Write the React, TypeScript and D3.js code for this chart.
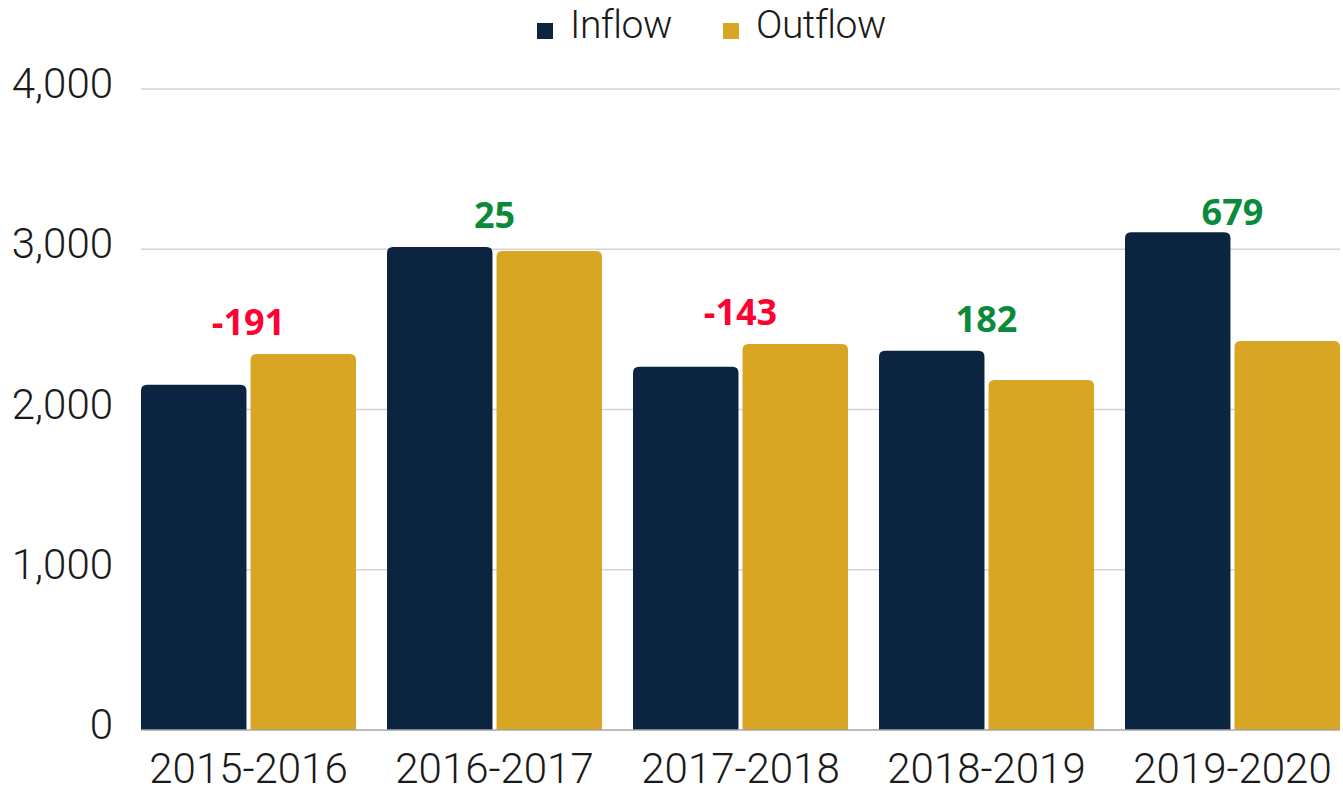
import React, { useEffect, useRef } from 'react';
import * as d3 from 'd3';

const periods = ['2015-2016', '2016-2017', '2017-2018', '2018-2019', '2019-2020'];
const inflow = [2155, 3014, 2266, 2366, 3106];
const outflow = [2346, 2989, 2409, 2184, 2427];
const netLabels = [-191, 25, -143, 182, 679];
const seriesNames = ['Inflow', 'Outflow'];
const yTicks = [0, 1000, 2000, 3000, 4000];

const COLORS = ['#0b2541', '#d9a624'];

const App = () => {
  const ref = useRef<SVGSVGElement>(null);

  useEffect(() => {
    const width = 1343;
    const height = 793;
    const margin = { top: 89, right: 3, bottom: 63, left: 141 };

    const svg = d3.select(ref.current);
    svg.selectAll('*').remove();

    const x0 = d3
      .scaleBand()
      .domain(periods)
      .range([margin.left, width - margin.right])
      .paddingInner(0.126)
      .paddingOuter(0);

    const x1 = d3.scaleBand().domain(seriesNames).range([0, x0.bandwidth()]).paddingInner(0.037);

    const y = d3
      .scaleLinear()
      .domain([0, 4000])
      .range([height - margin.bottom, margin.top]);

    // gridlines
    svg
      .append('g')
      .selectAll('line')
      .data(yTicks.filter((t) => t > 0))
      .enter()
      .append('line')
      .attr('x1', margin.left)
      .attr('x2', width - margin.right)
      .attr('y1', (d) => y(d))
      .attr('y2', (d) => y(d))
      .attr('stroke', '#d4d4d4')
      .attr('stroke-width', 1.5);

    // y tick labels
    svg
      .append('g')
      .selectAll('text')
      .data(yTicks)
      .enter()
      .append('text')
      .attr('x', 113)
      .attr('y', (d) => y(d) + 9)
      .attr('text-anchor', 'end')
      .style('font-family', 'Roboto, sans-serif')
      .style('font-weight', 300)
      .style('font-size', '42px')
      .attr('fill', '#1a1a1a')
      .text((d) => d3.format(',')(d));

    // rounded-top bar path
    const barPath = (bx: number, by: number, bw: number, bh: number) => {
      const r = Math.min(6, bh);
      return `M${bx},${by + bh}V${by + r}Q${bx},${by} ${bx + r},${by}H${bx + bw - r}Q${bx + bw},${by} ${bx + bw},${by + r}V${by + bh}Z`;
    };

    const groups = svg
      .append('g')
      .selectAll('g')
      .data(periods)
      .enter()
      .append('g')
      .attr('transform', (d) => `translate(${x0(d)},0)`);

    groups
      .selectAll('path')
      .data((d, i) => [
        { key: 'Inflow', value: inflow[i] },
        { key: 'Outflow', value: outflow[i] },
      ])
      .enter()
      .append('path')
      .attr('d', (d) =>
        barPath(x1(d.key) as number, y(d.value), x1.bandwidth(), y(0) - y(d.value))
      )
      .attr('fill', (d) => (d.key === 'Inflow' ? COLORS[0] : COLORS[1]));

    // net labels (inflow - outflow)
    svg
      .append('g')
      .selectAll('text')
      .data(periods)
      .enter()
      .append('text')
      .attr('x', (d) => (x0(d) as number) + x0.bandwidth() / 2)
      .attr('y', (d, i) => Math.max(y(Math.max(inflow[i], outflow[i])) - 19, margin.top + 136))
      .attr('text-anchor', 'middle')
      .style('font-family', '"Open Sans", sans-serif')
      .style('font-weight', 700)
      .style('font-size', '36px')
      .attr('fill', (d, i) => (netLabels[i] < 0 ? '#ff0033' : '#0b8a3c'))
      .text((d, i) => netLabels[i]);

    // baseline
    svg
      .append('line')
      .attr('x1', margin.left)
      .attr('x2', width - margin.right)
      .attr('y1', y(0))
      .attr('y2', y(0))
      .attr('stroke', '#a6a6a6')
      .attr('stroke-width', 1.5);

    // x labels
    svg
      .append('g')
      .selectAll('text')
      .data(periods)
      .enter()
      .append('text')
      .attr('x', (d) => (x0(d) as number) + x0.bandwidth() / 2)
      .attr('y', y(0) + 53)
      .attr('text-anchor', 'middle')
      .style('font-family', 'Roboto, sans-serif')
      .style('font-weight', 300)
      .style('font-size', '42px')
      .attr('fill', '#1a1a1a')
      .text((d) => d);

    // legend
    const legendX = [537, 723];
    const legend = svg
      .append('g')
      .selectAll('g')
      .data(seriesNames)
      .enter()
      .append('g')
      .attr('transform', (d, i) => `translate(${legendX[i]},0)`);

    legend
      .append('rect')
      .attr('x', 0)
      .attr('y', 23)
      .attr('width', 16)
      .attr('height', 16)
      .attr('fill', (d, i) => COLORS[i]);

    legend
      .append('text')
      .attr('x', 33)
      .attr('y', 38)
      .style('font-family', 'Roboto, sans-serif')
      .style('font-weight', 300)
      .style('font-size', '39px')
      .style('letter-spacing', '-0.5px')
      .attr('fill', '#1a1a1a')
      .text((d) => d);
  }, []);

  return (
    <svg
      ref={ref}
      width={1343}
      height={793}
      style={{ position: 'absolute', left: 0, top: 0, background: '#fff' }}
    />
  );
};

export default App;
